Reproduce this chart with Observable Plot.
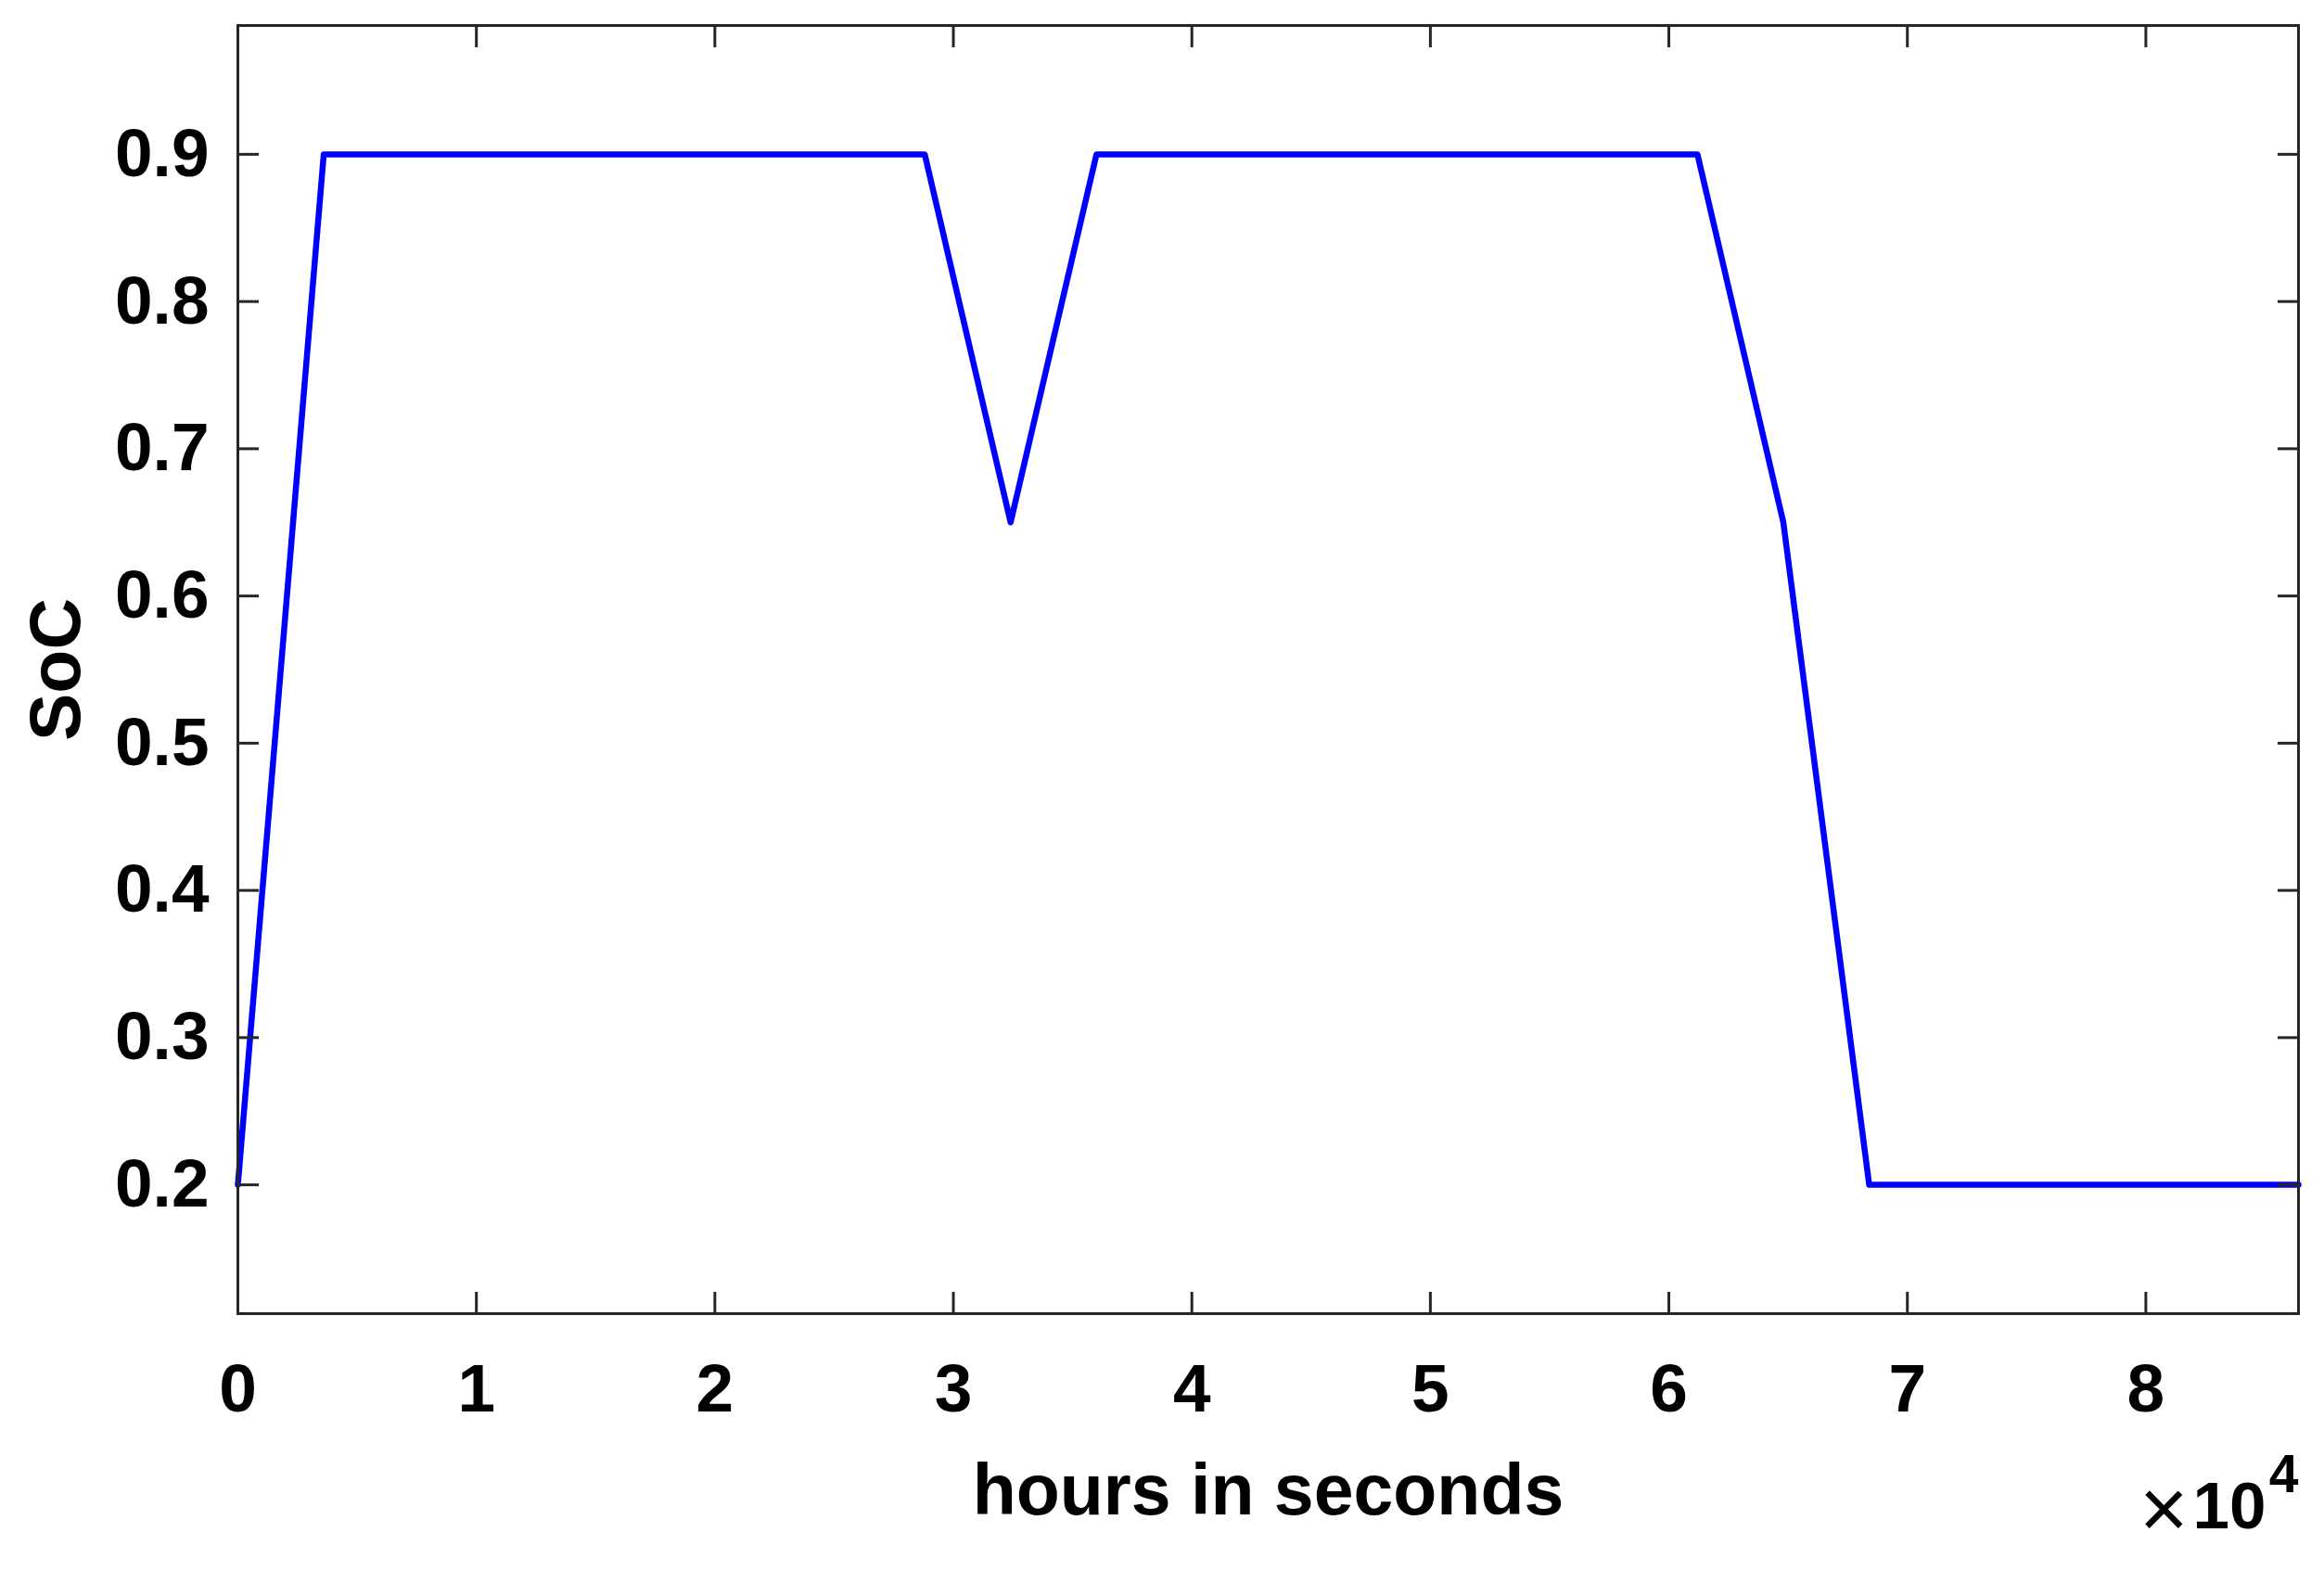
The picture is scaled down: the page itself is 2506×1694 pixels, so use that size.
<!DOCTYPE html>
<html><head><meta charset="utf-8">
<script src="https://cdn.jsdelivr.net/npm/d3@7"></script>
<script src="https://cdn.jsdelivr.net/npm/@observablehq/plot@0.6"></script>
<style>
html,body{margin:0;padding:0;background:#fff;}
#chart svg{font-family:"Liberation Sans",Arial,Helvetica,sans-serif;}
</style></head><body><div id="chart"></div>
<script>
// Data (time in seconds, hourly samples over one day)
const timeSeconds = [0,3600,7200,10800,14400,18000,21600,25200,28800,32400,36000,39600,43200,46800,50400,54000,57600,61200,64800,68400,72000,75600,79200,82800,86400];
const socValues   = [0.2,0.9,0.9,0.9,0.9,0.9,0.9,0.9,0.9,0.65,0.9,0.9,0.9,0.9,0.9,0.9,0.9,0.9,0.65,0.2,0.2,0.2,0.2,0.2,0.2];
const xTicks = [0,10000,20000,30000,40000,50000,60000,70000,80000];
const yTicks = [0.2,0.3,0.4,0.5,0.6,0.7,0.8,0.9];
const xLabel = "hours in seconds";
const yLabel = "SoC";
const exponentBase = "10";
const exponentPower = "4";
const exponentTimes = "×";

const data = timeSeconds.map((t, i) => ({t, soc: socValues[i]}));
const axisColor = "#262626";
const font = '"Liberation Sans",Arial,Helvetica,sans-serif';

const tickMarks = (axis, anchor, ticks) => axis({anchor, ticks, tickSize: -23, stroke: axisColor, strokeWidth: 3, fill: "none", label: null});

const chart = Plot.plot({
  width: 2506,
  height: 1694,
  marginLeft: 256,
  marginRight: 28,
  marginTop: 27,
  marginBottom: 278,
  style: {background: "#fff", color: axisColor, fontFamily: font},
  x: {domain: [0, 86400]},
  y: {domain: [0.1125, 0.9875]},
  marks: [
    Plot.line(data, {x: "t", y: "soc", stroke: "#0000ff", strokeWidth: 6.5, strokeLinejoin: "round", strokeLinecap: "round"}),
    Plot.frame({stroke: axisColor, strokeWidth: 3}),
    tickMarks(Plot.axisX, "bottom", xTicks),
    tickMarks(Plot.axisX, "top", xTicks),
    tickMarks(Plot.axisY, "left", yTicks),
    tickMarks(Plot.axisY, "right", yTicks),
    Plot.axisX({anchor: "bottom", ticks: xTicks, tickSize: 0, tickPadding: 54, fontSize: 73, fontWeight: "bold", fill: "#000", stroke: "none", label: null, tickFormat: d => String(d / 1e4)}),
    Plot.axisY({anchor: "left", ticks: yTicks, tickSize: 0, tickPadding: 31, fontSize: 73, fontWeight: "bold", fill: "#000", stroke: "none", label: null, tickFormat: d => d.toFixed(1)}),
    Plot.text([xLabel], {frameAnchor: "bottom", dy: 216, lineAnchor: "bottom", textAnchor: "middle", text: d => d, fontSize: 77, fontWeight: "bold", fill: "#000"}),
    Plot.text([yLabel], {frameAnchor: "left", dx: -195, rotate: -90, lineAnchor: "middle", textAnchor: "middle", text: d => d, fontSize: 77, fontWeight: "bold", fill: "#000"}),
    Plot.text([exponentTimes], {frameAnchor: "bottom-right", dx: -119, dy: 241, textAnchor: "end", lineAnchor: "bottom", text: d => d, fontSize: 90, fontWeight: "normal", fill: "#000"}),
    Plot.text([exponentBase], {frameAnchor: "bottom-right", dx: -35, dy: 231, textAnchor: "end", lineAnchor: "bottom", text: d => d, fontSize: 71, fontWeight: "bold", fill: "#000"}),
    Plot.text([exponentPower], {frameAnchor: "bottom-right", dx: 0, dy: 192, textAnchor: "end", lineAnchor: "bottom", text: d => d, fontSize: 57, fontWeight: "bold", fill: "#000"})
  ]
});
document.getElementById("chart").appendChild(chart);
</script>
</body></html>
